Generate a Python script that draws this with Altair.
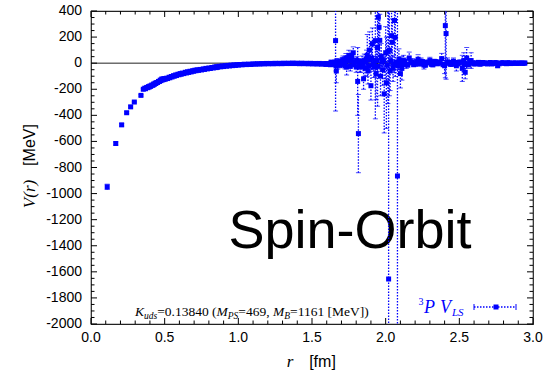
import altair as alt
import pandas as pd

W, H = 442, 313
BLUE = "#0000ff"

# ---- data: steep short-range part ----
r_steep = [0.11, 0.168, 0.208, 0.242, 0.269, 0.294, 0.339, 0.355]
v_steep = [-948, -616, -473, -380, -335, -298, -247, -200]
e_steep = [20, 12, 10, 8, 8, 6, 6, 6]

# ---- smooth branch ----
r_curve = [0.365, 0.378, 0.39, 0.40, 0.412, 0.425, 0.436, 0.446, 0.458, 0.47, 0.48, 0.49,
           0.50, 0.514, 0.53, 0.545, 0.56, 0.575, 0.59, 0.605, 0.62, 0.64, 0.655, 0.672,
           0.69, 0.705, 0.72, 0.74, 0.762, 0.78, 0.80, 0.82, 0.84, 0.853, 0.87, 0.89, 0.91,
           0.93, 0.95, 0.97, 0.99, 1.01, 1.04, 1.07, 1.10, 1.13, 1.16, 1.19, 1.22, 1.25,
           1.28, 1.31, 1.34, 1.37, 1.40, 1.43, 1.46, 1.49, 1.52, 1.55, 1.58, 1.61, 1.64]
v_curve = [-192, -186, -180, -175, -168, -160, -153, -148, -140, -130, -122, -120,
           -118, -115, -108, -102, -96, -90, -85, -80, -76, -70, -66, -62,
           -58, -54, -51, -48, -44, -40, -37, -33, -29, -27, -24, -21, -19,
           -17, -15, -13, -12, -10, -8, -7, -5, -4, -3, -2, -2, -1,
           -1, 0, 0, 1, 0, 0, -1, -1, -2, -2, -3, -4, -6]
e_curve = [6, 6, 5, 5, 5, 5, 5, 5, 4, 4, 4, 4, 4, 4, 4, 4, 4, 3, 3, 3, 3, 3, 3, 3,
           3, 3, 3, 3, 3, 3, 3, 3, 3, 3, 3, 3, 3, 3, 3, 3, 3, 3, 3, 3, 3, 3, 3, 3, 3, 3,
           3, 4, 4, 4, 4, 5, 5, 6, 6, 7, 8, 9, 10]

r_curve2 = [0.37, 0.385, 0.395, 0.405, 0.42, 0.43, 0.44, 0.452, 0.465, 0.475, 0.485, 0.495,
            0.505, 0.52, 0.535, 0.55, 0.565, 0.58, 0.597, 0.612, 0.63, 0.648, 0.663, 0.68,
            0.697, 0.713, 0.73, 0.75, 0.77, 0.79, 0.81, 0.83, 0.85, 0.86, 0.88, 0.90, 0.92,
            0.94, 0.96, 0.98, 1.00, 1.025, 1.055, 1.085, 1.115, 1.145, 1.175, 1.205, 1.235,
            1.265, 1.295, 1.325, 1.355, 1.385, 1.415, 1.445, 1.475, 1.505, 1.535, 1.565,
            1.595, 1.625]
v_curve2 = [-196, -188, -183, -178, -170, -162, -156, -148, -140, -134, -128, -126,
            -122, -118, -112, -106, -100, -95, -89, -85, -80, -75, -71, -67,
            -62, -58, -55, -52, -48, -44, -41, -37, -34, -31, -28, -26, -23,
            -21, -19, -17, -15, -13, -11, -10, -8, -7, -6, -5, -5,
            -4, -4, -3, -3, -3, -4, -4, -5, -6, -7, -8, -10, -12]
e_curve2 = [6, 6, 5, 5, 5, 5, 5, 5, 4, 4, 4, 4, 4, 4, 4, 4, 4, 3, 3, 3, 3, 3, 3, 3,
            3, 3, 3, 3, 3, 3, 3, 3, 3, 3, 3, 3, 3, 3, 3, 3, 3, 3, 3, 3, 3, 3, 3, 3, 3,
            3, 4, 4, 4, 4, 5, 5, 6, 6, 7, 8, 9, 10]

# ---- noisy region ----
r_noisy = [1.65, 1.655, 1.66, 1.662, 1.665, 1.67, 1.675, 1.68, 1.69, 1.70, 1.71, 1.72, 1.73,
           1.74, 1.75, 1.76, 1.77, 1.78, 1.79, 1.80, 1.81, 1.815, 1.82, 1.83, 1.84, 1.85,
           1.855, 1.86, 1.87, 1.88, 1.89, 1.90, 1.905, 1.91, 1.92, 1.93, 1.935, 1.94, 1.95,
           1.955, 1.96, 1.965, 1.97, 1.98, 1.99, 2.00, 2.02, 2.025, 2.03, 2.04, 2.045, 2.05,
           2.06, 2.065, 2.08, 2.09, 2.10, 2.12, 2.14, 2.16, 2.18, 2.20, 2.22, 2.24, 2.26,
           2.28, 2.30, 2.32, 2.34, 2.36, 2.38, 2.40, 2.405, 2.41, 2.42, 2.44, 2.46, 2.48, 2.50,
           1.735, 1.875, 1.945, 2.005, 2.015, 2.11]
v_noisy = [-8, 5, 173, -20, -60, 10, -15, 3, 12, -10, 25, 5, 40,
           20, 60, -25, 45, 80, 10, -30, -140, -540, 5, -20, 15, -120,
           20, -40, 30, -60, 100, -173, 40, 150, -30, 173, -80, 20, 352,
           275, 175, -100, 50, -50, -235, 80, -1655, 100, -60, 211, 160, -40,
           327, 198, -865, 30, -80, 20, -10, 40, 10, -5, 30, 15, -15,
           5, 20, -10, 10, 0, 35, -20, 288, 227, 10, -5, 15, -20, 5,
           -30, 60, 120, -150, 90, -40]
e_noisy = [15, 20, 540, 40, 90, 25, 30, 18, 20, 25, 30, 20, 35,
           30, 40, 35, 40, 45, 30, 40, 260, 300, 30, 50, 40, 80,
           50, 60, 70, 100, 140, 110, 90, 120, 80, 600, 200, 120, 300,
           250, 200, 150, 100, 120, 300, 200, 2500, 350, 150, 250, 180, 100,
           400, 300, 1500, 80, 110, 40, 30, 45, 25, 20, 35, 25, 30,
           20, 25, 20, 18, 15, 40, 60, 400, 350, 30, 20, 25, 40, 20,
           60, 160, 450, 350, 400, 90]

r_noisy2 = [1.60, 1.63, 1.685, 1.705, 1.725, 1.745, 1.765, 1.785, 1.805, 1.825, 1.845, 1.865,
            1.885, 1.895, 1.915, 1.925, 1.945, 1.975, 1.985, 2.01, 2.035, 2.055, 2.07, 2.085,
            2.095, 2.11, 2.13, 2.15, 2.17, 2.19, 2.21, 2.23, 2.25, 2.27, 2.29, 2.31, 2.33,
            2.35, 2.37, 2.39, 2.43, 2.45, 2.47, 2.49]
v_noisy2 = [-3, 8, -12, 18, -20, 30, 15, -10, 20, -30, -15, 10,
            -20, 25, -10, 15, -25, 10, 20, -15, 15, -10, 5, -20,
            12, -8, 15, -12, 8, -10, 12, -6, 10, -12, 6, -8, 12,
            -5, 8, -10, 6, -8, 5, -6]
e_noisy2 = [10, 12, 20, 25, 25, 30, 25, 20, 30, 40, 30, 30,
            35, 40, 30, 35, 40, 30, 35, 30, 30, 25, 20, 30,
            25, 20, 25, 20, 18, 18, 20, 15, 18, 20, 15, 15, 18,
            12, 15, 18, 12, 15, 12, 12]

# ---- long-range tail ----
r_tail = [2.52, 2.53, 2.54, 2.55, 2.56, 2.57, 2.58, 2.60, 2.62, 2.64, 2.66, 2.68, 2.70,
          2.72, 2.74, 2.76, 2.78, 2.80, 2.82, 2.84, 2.86, 2.88, 2.90, 2.92, 2.94,
          2.51, 2.535, 2.565, 2.59, 2.61, 2.63, 2.65, 2.67, 2.69, 2.71, 2.73, 2.75, 2.77,
          2.79, 2.81, 2.83, 2.85, 2.87, 2.89, 2.91, 2.93, 2.945]
v_tail = [-40, 20, -70, 40, -10, 5, 20, -5, 3, -8, 5, -3, 2,
          -6, 4, -20, 0, 3, -4, 2, -2, 1, -1, 0, 0,
          8, -10, -8, 4, -5, 6, -4, 3, -6, 5, -3, 4, -5,
          3, -2, 4, -3, 2, -2, 2, -1, 1]
e_tail = [100, 60, 50, 80, 20, 15, 60, 15, 10, 12, 10, 8, 10,
          10, 8, 12, 8, 8, 8, 6, 6, 5, 5, 5, 5,
          12, 15, 12, 8, 8, 8, 6, 6, 6, 6, 6, 6, 6,
          5, 5, 5, 5, 5, 5, 5, 5, 5]

r_all = r_steep + r_curve + r_curve2 + r_noisy + r_noisy2 + r_tail
v_all = v_steep + v_curve + v_curve2 + v_noisy + v_noisy2 + v_tail
e_all = e_steep + e_curve + e_curve2 + e_noisy + e_noisy2 + e_tail

df = pd.DataFrame({"r": r_all, "V": v_all, "e": e_all})
df["lo"] = df["V"] - df["e"]
df["hi"] = df["V"] + df["e"]

# ---- axis ticks / labels ----
x_label_vals = [0.0, 0.5, 1.0, 1.5, 2.0, 2.5, 3.0]
x_label_txt = ["0.0", "0.5", "1.0", "1.5", "2.0", "2.5", "3.0"]
x_minor = [i / 10 for i in range(0, 31) if i % 5 != 0]
y_label_vals = list(range(-2000, 401, 200))
y_label_txt = [str(v) for v in y_label_vals]
y_minor = [v for v in range(-2000, 401, 50) if v % 200 != 0]

xs = alt.Scale(domain=[0, 3], nice=False, zero=False)
ys = alt.Scale(domain=[-2000, 400], nice=False, zero=False)

SANS = "Liberation Sans"
SERIF = "Liberation Serif"

big = alt.Chart(pd.DataFrame({"t": ["Spin-Orbit"]})).mark_text(
    font=SANS, fontSize=54, color="black", align="center", baseline="alphabetic"
).encode(text="t:N", x=alt.value(259), y=alt.value(237))

zero = alt.Chart(pd.DataFrame({"z": [0]})).mark_rule(color="#222", strokeWidth=1).encode(
    y=alt.Y("z:Q", scale=ys, axis=None)
)

bars = alt.Chart(df).mark_rule(
    color=BLUE, strokeDash=[1.5, 1.5], strokeWidth=1.3, clip=True
).encode(
    x=alt.X("r:Q", scale=xs, axis=None),
    y=alt.Y("lo:Q", scale=ys, axis=None),
    y2="hi:Q",
)

cap_lo = alt.Chart(df).mark_tick(color=BLUE, orient="horizontal", size=5, thickness=1, clip=True).encode(
    x=alt.X("r:Q", scale=xs, axis=None), y=alt.Y("lo:Q", scale=ys, axis=None))
cap_hi = alt.Chart(df).mark_tick(color=BLUE, orient="horizontal", size=5, thickness=1, clip=True).encode(
    x=alt.X("r:Q", scale=xs, axis=None), y=alt.Y("hi:Q", scale=ys, axis=None))

pts = alt.Chart(df).mark_square(color=BLUE, size=25, opacity=1, clip=True).encode(
    x=alt.X("r:Q", scale=xs, axis=None), y=alt.Y("V:Q", scale=ys, axis=None))

# inward ticks on all four sides
def xticks(vals, length):
    d = pd.DataFrame({"t": vals})
    b = alt.Chart(d).mark_rule(color="black", strokeWidth=1)
    bot = b.encode(x=alt.X("t:Q", scale=xs, axis=None), y=alt.value(H), y2=alt.value(H - length))
    top = b.encode(x=alt.X("t:Q", scale=xs, axis=None), y=alt.value(0), y2=alt.value(length))
    return [bot, top]

def yticks(vals, length):
    d = pd.DataFrame({"t": vals})
    b = alt.Chart(d).mark_rule(color="black", strokeWidth=1)
    left = b.encode(y=alt.Y("t:Q", scale=ys, axis=None), x=alt.value(0), x2=alt.value(length))
    right = b.encode(y=alt.Y("t:Q", scale=ys, axis=None), x=alt.value(W), x2=alt.value(W - length))
    return [left, right]

tick_layers = xticks(x_label_vals, 6) + xticks(x_minor, 3.5) + yticks(y_label_vals, 6) + yticks(y_minor, 3.5)

# tick labels (as text, positioned through the scales)
xlab = alt.Chart(pd.DataFrame({"v": x_label_vals, "s": x_label_txt})).mark_text(
    font=SANS, fontSize=14, color="black", align="center", baseline="top"
).encode(x=alt.X("v:Q", scale=xs, axis=None), y=alt.value(H + 7), text="s:N")
ylab = alt.Chart(pd.DataFrame({"v": y_label_vals, "s": y_label_txt})).mark_text(
    font=SANS, fontSize=14, color="black", align="right", baseline="middle"
).encode(y=alt.Y("v:Q", scale=ys, axis=None), x=alt.value(-9), text="s:N")


def txt(s, x, y, size, font=SERIF, style="normal", color="black", angle=0, align="left",
        baseline="alphabetic"):
    kw = dict(font=font, fontSize=size, fontStyle=style, color=color, align=align, baseline=baseline)
    if angle:
        kw["angle"] = angle
    return alt.Chart(pd.DataFrame({"t": [s]})).mark_text(**kw).encode(
        text="t:N", x=alt.value(x), y=alt.value(y))

# Times-metric advance widths (em/1000) for sequential layout of the annotation
WR = {"=": 564, ".": 250, " ": 250, "(": 333, ")": 333, ",": 250, "[": 333, "]": 333,
      "M": 889, "e": 444, "V": 722}
WI = {"K": 667, "u": 500, "d": 500, "s": 389, "M": 833, "P": 611, "S": 500, "B": 611}

def width(s, size, italic):
    tab = WI if italic else WR
    return sum(tab.get(c, 500) for c in s) / 1000 * size

MAIN, SUB = 13.5, 9.5
pieces = [("K", False, True), ("uds", True, True), ("=0.13840 (", False, False),
          ("M", False, True), ("PS", True, True), ("=469, ", False, False),
          ("M", False, True), ("B", True, True), ("=1161 [MeV])", False, False)]
annot = []
xp = 44.0
for s, sub, ital in pieces:
    size = SUB if sub else MAIN
    annot.append(txt(s, xp, 308 if sub else 305, size, style="italic" if ital else "normal"))
    xp += width(s, size, ital)

annot += [
    # legend label
    txt("3", 327.5, 294, 10, color=BLUE),
    txt("P", 333, 302, 18, style="italic", color=BLUE),
    txt("V", 349, 302, 18, style="italic", color=BLUE),
    txt("LS", 361, 305, 11, style="italic", color=BLUE),
    # axis titles
    txt("r", 199, 356, 17, style="italic", align="center"),
    txt("[fm]", 231.5, 356, 16, font=SANS, align="center"),
    txt("[MeV]", -61, 134, 16, font=SANS, angle=270, align="center", baseline="middle"),
    txt("V(r)", -61, 183, 17, style="italic", angle=270, align="center", baseline="middle"),
]

# legend sample
leg_line = alt.Chart(pd.DataFrame({"a": [0]})).mark_rule(
    color=BLUE, strokeDash=[1.5, 1.5], strokeWidth=1.3).encode(
    x=alt.value(383), x2=alt.value(425), y=alt.value(296))
leg_caps = [alt.Chart(pd.DataFrame({"a": [0]})).mark_rule(color=BLUE, strokeWidth=1).encode(
    x=alt.value(px), y=alt.value(293), y2=alt.value(299)) for px in (383, 425)]
leg_pt = alt.Chart(pd.DataFrame({"a": [0]})).mark_square(color=BLUE, size=25, opacity=1).encode(
    x=alt.value(405), y=alt.value(296))

chart = alt.layer(
    big, bars, zero, cap_lo, cap_hi, pts, *tick_layers, xlab, ylab, *annot,
    leg_line, *leg_caps, leg_pt
).properties(
    width=W, height=H,
    padding={"left": 91, "top": 11, "right": 18, "bottom": 47},
    autosize=alt.AutoSizeParams(type="none"),
    background="white",
).configure_view(stroke="#222", strokeWidth=1.2)

chart.save("out.html", embed_options={"renderer": "svg", "actions": False})
